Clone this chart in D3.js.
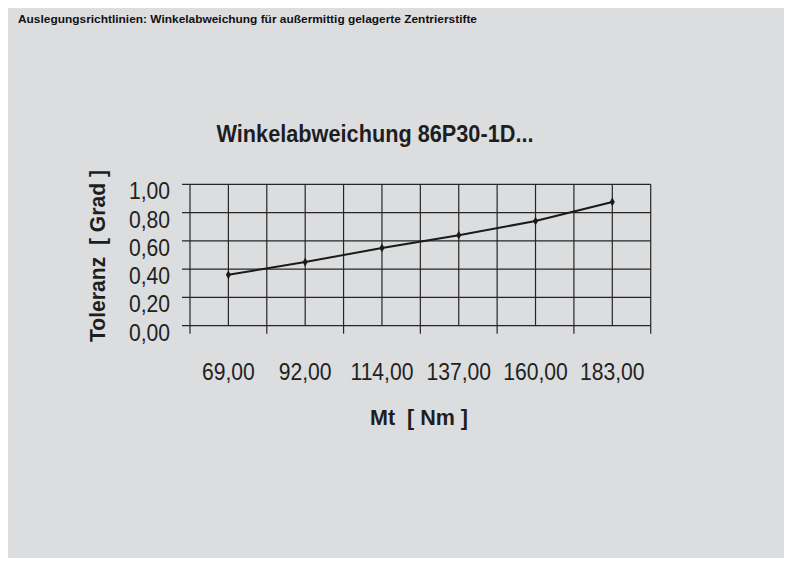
<!DOCTYPE html>
<html>
<head>
<meta charset="utf-8">
<script src="https://cdn.jsdelivr.net/npm/d3@7"></script>
<style>
  body { margin: 0; background: #fff; }
  svg { display: block; }
  text { font-family: "Liberation Sans", Arial, Helvetica, sans-serif; }
</style>
</head>
<body>
<div id="chart"></div>
<script>
// data
var categories = ["69,00", "92,00", "114,00", "137,00", "160,00", "183,00"];
var tolerance = [0.36, 0.45, 0.55, 0.64, 0.74, 0.875];
var yTicks = [0, 0.2, 0.4, 0.6, 0.8, 1.0];

var width = 794, height = 567;
var plot = { left: 190, right: 650.7, top: 184.3, bottom: 325.7 };
var squeeze = 0.88; // fake a condensed face by scaling horizontally

var svg = d3.select('#chart')
    .append('svg')
    .attr('width', width)
    .attr('height', height);

// grey panel
svg.append('rect')
    .attr('x', 8).attr('y', 8)
    .attr('width', 776).attr('height', 550)
    .attr('fill', '#dcdddf');

svg.append('text')
    .attr('x', 18).attr('y', 22.5)
    .attr('font-weight', 'bold')
    .attr('font-size', 11.5)
    .attr('fill', '#111')
    .attr('textLength', 459)
    .attr('lengthAdjust', 'spacingAndGlyphs')
    .text('Auslegungsrichtlinien: Winkelabweichung für außermittig gelagerte Zentrierstifte');

svg.append('text')
    .attr('x', 216.5).attr('y', 141.5)
    .attr('font-weight', 'bold')
    .attr('font-size', 23)
    .attr('fill', '#1e1e1e')
    .attr('textLength', 317)
    .attr('lengthAdjust', 'spacingAndGlyphs')
    .text('Winkelabweichung 86P30-1D...');

var x = d3.scaleBand()
    .domain(categories)
    .range([plot.left, plot.right])
    .padding(0);

var y = d3.scaleLinear()
    .domain([0, 1])
    .range([plot.bottom, plot.top]);

var fmt = d3.formatLocale({ decimal: ',', thousands: '.', grouping: [3], currency: ['', ''] }).format('.2f');
var bw = x.bandwidth();
var gridColor = '#262626';

// horizontal grid lines with little ticks on the left
svg.append('g').selectAll('line')
    .data(yTicks)
    .enter().append('line')
    .attr('x1', plot.left - 8)
    .attr('x2', plot.right)
    .attr('y1', function(d) { return y(d); })
    .attr('y2', function(d) { return y(d); })
    .attr('stroke', gridColor)
    .attr('stroke-width', 1.2);

// vertical lines: band edges get a tick below the axis, band centres don't
var edges = categories.map(function(c) { return x(c); }).concat([plot.right]);
svg.append('g').selectAll('line')
    .data(edges)
    .enter().append('line')
    .attr('x1', function(d) { return d; })
    .attr('x2', function(d) { return d; })
    .attr('y1', plot.top)
    .attr('y2', plot.bottom + 8)
    .attr('stroke', gridColor)
    .attr('stroke-width', 1.2);

svg.append('g').selectAll('line')
    .data(categories)
    .enter().append('line')
    .attr('x1', function(d) { return x(d) + bw / 2; })
    .attr('x2', function(d) { return x(d) + bw / 2; })
    .attr('y1', plot.top)
    .attr('y2', plot.bottom)
    .attr('stroke', gridColor)
    .attr('stroke-width', 1.2);

// y tick labels
svg.append('g').selectAll('text')
    .data(yTicks)
    .enter().append('text')
    .attr('transform', function(d) {
        return 'translate(170,' + (y(d) + 15) + ') scale(' + squeeze + ',1)';
    })
    .attr('text-anchor', 'end')
    .attr('font-size', 24)
    .attr('fill', '#222')
    .text(function(d) { return fmt(d); });

// x tick labels
svg.append('g').selectAll('text')
    .data(categories)
    .enter().append('text')
    .attr('transform', function(d) {
        return 'translate(' + (x(d) + bw / 2) + ',380) scale(' + squeeze + ',1)';
    })
    .attr('text-anchor', 'middle')
    .attr('font-size', 24)
    .attr('fill', '#222')
    .text(function(d) { return d; });

// axis titles
svg.append('text')
    .attr('x', 370).attr('y', 425)
    .attr('font-weight', 'bold')
    .attr('font-size', 21.5)
    .attr('fill', '#1e1e1e')
    .attr('xml:space', 'preserve')
    .attr('textLength', 98)
    .attr('lengthAdjust', 'spacingAndGlyphs')
    .text('Mt  [ Nm ]');

svg.append('text')
    .attr('transform', 'translate(105,342) rotate(-90)')
    .attr('font-weight', 'bold')
    .attr('font-size', 21.5)
    .attr('fill', '#1e1e1e')
    .attr('xml:space', 'preserve')
    .attr('textLength', 172)
    .attr('lengthAdjust', 'spacingAndGlyphs')
    .text('Toleranz  [ Grad ]');

// the series
var line = d3.line()
    .x(function(d, i) { return x(categories[i]) + bw / 2; })
    .y(function(d) { return y(d); });

svg.append('path')
    .datum(tolerance)
    .attr('d', line)
    .attr('fill', 'none')
    .attr('stroke', '#1a1a1a')
    .attr('stroke-width', 2);

svg.append('g').selectAll('path.mark')
    .data(tolerance)
    .enter().append('path')
    .attr('class', 'mark')
    .attr('d', d3.symbol(d3.symbolDiamond, 22))
    .attr('transform', function(d, i) {
        return 'translate(' + (x(categories[i]) + bw / 2) + ',' + y(d) + ')';
    })
    .attr('fill', '#1a1a1a');
</script>
</body>
</html>
